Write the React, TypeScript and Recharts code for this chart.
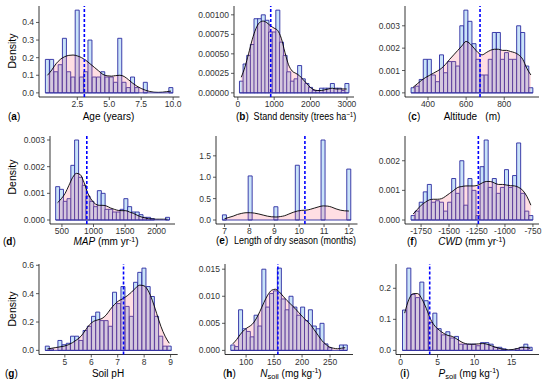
import React from 'react';
import { ComposedChart, Bar, Area, XAxis, YAxis, ReferenceLine } from 'recharts';

const FONT = '"Liberation Sans", Arial, Helvetica, sans-serif';
const BAR_FILL = '#c9e3f9';
const BAR_STROKE = '#2a2aa0';
const AREA_FILL = '#ff6b80';
const MEAN_COLOR = '#0000ff';

const N_BINS = 30;
const binCenters = (first: number, width: number) =>
  Array.from({ length: N_BINS }, (_, i) => first + i * width);

// (a) Age (years)
const ageCenters = binCenters(0.1667, 0.3333);
const ageBars = [0.19, 0.19, 0.12, 0.16, 0.31, 0.12, 0.09, 0.47, 0.09, 0.12, 0.30, 0.09, 0.09, 0.12, 0.09, 0.09, 0.06, 0.31, 0.06, 0.03, 0.09, 0.03, 0, 0.06, 0, 0, 0, 0, 0, 0.03];
const ageCurve = [0.10, 0.13, 0.165, 0.19, 0.205, 0.213, 0.215, 0.21, 0.2, 0.185, 0.165, 0.145, 0.125, 0.105, 0.097, 0.095, 0.098, 0.1, 0.093, 0.075, 0.055, 0.038, 0.025, 0.015, 0.008, 0.004, 0.003, 0.004, 0.007, 0.01];
const ageMean = 3.05;
const ageXTicks = [2.5, 5.0, 7.5, 10.0];
const ageYTicks = [0, 0.1, 0.2, 0.3, 0.4];

// (b) Stand density
const standCenters = binCenters(95, 100);
const standBars = [0.00015, 0.00037, 0.00048, 0.00062, 0.00095, 0.00095, 0.00100, 0.00093, 0.00078, 0.00078, 0.00106, 0.00065, 0.00048, 0.00027, 0.00015, 0.00018, 0.00035, 0.00018, 0.00012, 0.00007, 0.00003, 0.00003, 0.00006, 0.00006, 0.00006, 0.00012, 0.00006, 0.00006, 0.00003, 0.00012];
const standCurve = [0.0002, 0.00033, 0.0005, 0.00068, 0.00082, 0.0009, 0.00092, 0.0009, 0.00086, 0.00083, 0.0008, 0.0007, 0.00052, 0.00036, 0.00028, 0.00025, 0.00022, 0.00017, 0.00012, 0.00007, 0.00004, 0.00003, 0.00003, 0.00004, 0.00005, 0.00006, 0.00005, 0.00005, 0.00005, 0.00005];
const standMean = 905;
const standXTicks = [0, 1000, 2000, 3000];
const standYTicks = [0, 0.00025, 0.0005, 0.00075, 0.001];

// (c) Altitude
const altCenters = binCenters(322, 21.3);
const altBars = [0.00023, 0.0003, 0.0006, 0.0015, 0.0015, 0.0008, 0.0005, 0.0017, 0.0009, 0.0014, 0.0014, 0.0012, 0.0030, 0.0037, 0.0032, 0.0022, 0.0015, 0.0008, 0.0008, 0.0015, 0.0027, 0.0027, 0.0015, 0.0018, 0.0015, 0.0015, 0.0030, 0.0027, 0.0012, 0.00023];
const altCurve = [0.00025, 0.0004, 0.00055, 0.00068, 0.00078, 0.00088, 0.00098, 0.0011, 0.00128, 0.0015, 0.0017, 0.0019, 0.0021, 0.0023, 0.0022, 0.002, 0.0018, 0.0017, 0.0018, 0.0019, 0.00195, 0.00195, 0.0019, 0.0019, 0.00185, 0.0018, 0.0017, 0.0015, 0.0011, 0.0008];
const altMean = 673;
const altXTicks = [400, 600, 800];
const altYTicks = [0, 0.001, 0.002, 0.003];

// (d) MAP
const mapCenters = binCenters(431, 60);
const mapBars = [0.00125, 0.00115, 0.0007, 0.0008, 0.00205, 0.0030, 0.0016, 0.0013, 0.0009, 0.0007, 0.0005, 0.0011, 0.0010, 0.0004, 0.0004, 0.0003, 0.0003, 0.0004, 0.0008, 0.0005, 0.0003, 0.0003, 0.0002, 0.0001, 0.0001, 0.00005, 0, 0, 0, 0.0001];
const mapCurve = [0.00065, 0.0008, 0.001, 0.0013, 0.0016, 0.00175, 0.0017, 0.0014, 0.001, 0.00075, 0.0006, 0.00055, 0.00055, 0.00052, 0.00045, 0.0004, 0.00036, 0.00035, 0.00035, 0.0003, 0.00025, 0.00018, 0.00012, 0.00008, 0.00005, 0.00004, 0.00003, 0.00003, 0.00003, 0.00003];
const mapMean = 894;
const mapXTicks = [500, 1000, 1500, 2000];
const mapYTicks = [0, 0.001, 0.002, 0.003];

// (e) Length of dry season
const dryCenters = binCenters(7, 5 / 29);
const dryBars = [0.12, 0, 0, 0, 0, 0, 1.03, 0, 0, 0, 0, 0, 0.31, 0, 0, 0, 0, 1.28, 0, 0, 0, 0, 0, 1.87, 0, 0, 0, 0, 0, 1.19];
const dryCurve = [0.03, 0.06, 0.09, 0.13, 0.155, 0.17, 0.17, 0.16, 0.14, 0.115, 0.09, 0.075, 0.07, 0.08, 0.1, 0.14, 0.18, 0.21, 0.225, 0.23, 0.25, 0.28, 0.31, 0.33, 0.325, 0.3, 0.26, 0.23, 0.215, 0.21];
const dryMean = 10.23;
const dryXTicks = [7, 8, 9, 10, 11, 12];
const dryYTicks = [0, 0.5, 1.0, 1.5];

// (f) CWD
const cwdCenters = binCenters(-1821, 36.3);
const cwdBars = [0.00015, 0.0003, 0.0006, 0.00095, 0.0012, 0.0006, 0.00065, 0.0006, 0.0003, 0.0006, 0.0014, 0.0009, 0.0020, 0.0005, 0.0014, 0.0010, 0.00015, 0.0018, 0.0027, 0.0011, 0.0014, 0.0009, 0.0011, 0.0017, 0.0011, 0.0015, 0.0026, 0.0009, 0.0003, 0.00015];
const cwdCurve = [0.0002, 0.00035, 0.0005, 0.0006, 0.00068, 0.0007, 0.0007, 0.00072, 0.0008, 0.0009, 0.001, 0.0011, 0.00113, 0.00115, 0.00115, 0.00115, 0.00118, 0.00125, 0.0013, 0.0013, 0.00125, 0.0012, 0.0012, 0.00118, 0.00116, 0.00115, 0.0011, 0.001, 0.0008, 0.0005];
const cwdMean = -1238;
const cwdXTicks = [-1750, -1500, -1250, -1000, -750];
const cwdYTicks = [0, 0.001, 0.002];

// (g) Soil pH
const phCenters = binCenters(4.34, 0.159);
const phBars = [0.03, 0.01, 0, 0.07, 0.04, 0.05, 0.10, 0.10, 0.07, 0.14, 0.17, 0.24, 0.27, 0.21, 0.21, 0.17, 0.41, 0.33, 0.45, 0.31, 0.24, 0.48, 0.55, 0.58, 0.45, 0.38, 0.24, 0.10, 0.03, 0.03];
const phCurve = [0.01, 0.015, 0.02, 0.025, 0.03, 0.04, 0.055, 0.075, 0.1, 0.14, 0.18, 0.205, 0.215, 0.225, 0.25, 0.29, 0.325, 0.35, 0.365, 0.385, 0.41, 0.44, 0.46, 0.455, 0.42, 0.35, 0.26, 0.17, 0.1, 0.05];
const phMean = 7.22;
const phXTicks = [5, 6, 7, 8, 9];
const phYTicks = [0, 0.2, 0.4, 0.6];

// (h) N soil
const nCenters = binCenters(76.2, 6.93);
const nBars = [0.001, 0.0007, 0.0075, 0.004, 0.0035, 0.0025, 0.0065, 0.0045, 0.015, 0.008, 0.0105, 0.011, 0.0152, 0.0095, 0.0075, 0.010, 0.008, 0.0065, 0.008, 0.0055, 0.0075, 0.0045, 0.004, 0.005, 0.0012, 0.0005, 0, 0, 0.001, 0.001];
const nCurve = [0.0012, 0.002, 0.003, 0.0038, 0.0043, 0.0048, 0.0058, 0.0072, 0.0088, 0.0102, 0.0111, 0.0113, 0.0108, 0.01, 0.0092, 0.0085, 0.0078, 0.007, 0.0062, 0.0055, 0.0048, 0.0038, 0.0028, 0.0018, 0.0011, 0.0006, 0.0004, 0.0003, 0.0004, 0.0005];
const nMean = 156.8;
const nXTicks = [100, 150, 200, 250];
const nYTicks = [0, 0.005, 0.01, 0.015];

// (i) P soil
const pCenters = binCenters(0.56, 0.585);
const pBars = [0.13, 0.265, 0.18, 0.17, 0.22, 0.16, 0.09, 0.12, 0.07, 0.05, 0.06, 0.04, 0.045, 0.02, 0.02, 0.02, 0.02, 0.015, 0.025, 0.025, 0.02, 0.01, 0.01, 0.005, 0, 0, 0.005, 0.01, 0.02, 0.01];
const pCurve = [0.12, 0.165, 0.183, 0.183, 0.165, 0.135, 0.1, 0.078, 0.065, 0.055, 0.048, 0.045, 0.037, 0.028, 0.022, 0.02, 0.02, 0.021, 0.022, 0.02, 0.015, 0.01, 0.006, 0.003, 0.002, 0.003, 0.006, 0.01, 0.01, 0.006];
const pMean = 3.94;
const pXTicks = [0, 5, 10, 15];
const pYTicks = [0, 0.1, 0.2];

type Rect = { l: number; t: number; r: number; b: number };

const YW = 46;
const MT = 4;
const MR = 6;
const XH = 18;

type PanelProps = {
  centers: number[];
  bars: number[];
  curve: number[];
  mean: number;
  xTicks: number[];
  xDec: number;
  yTicks: number[];
  yDec: number;
  rect: Rect;
};

const tickStyle = { fontSize: 8.5, fill: '#333333', fontFamily: FONT };

function Panel({ centers, bars, curve, mean, xTicks, xDec, yTicks, yDec, rect }: PanelProps) {
  const w = centers[1] - centers[0];
  const lo = centers[0] - w / 2;
  const hi = centers[centers.length - 1] + w / 2;
  const pad = (hi - lo) * 0.05;
  const ymax = Math.max(...bars, ...curve);
  const data = centers.map((x, i) => ({ x, h: bars[i], d: curve[i] }));
  const width = rect.r - rect.l + YW + MR;
  const height = rect.b - rect.t + MT + XH;
  return (
    <div style={{ position: 'absolute', left: rect.l - YW, top: rect.t - MT }}>
      <ComposedChart
        width={width}
        height={height}
        data={data}
        margin={{ top: MT, right: MR, bottom: 0, left: 0 }}
        barCategoryGap={0}
        barGap={0}
      >
        <XAxis
          dataKey="x"
          type="number"
          domain={[lo - pad, hi + pad]}
          allowDataOverflow
          ticks={xTicks}
          interval={0}
          tickFormatter={(v: number) => v.toFixed(xDec)}
          height={XH}
          tickSize={3}
          tickMargin={1}
          axisLine={{ stroke: '#000', strokeWidth: 0.8 }}
          tickLine={{ stroke: '#333', strokeWidth: 0.8 }}
          tick={tickStyle}
        />
        <YAxis
          type="number"
          domain={[-0.05 * ymax, 1.05 * ymax]}
          allowDataOverflow
          ticks={yTicks}
          interval={0}
          tickFormatter={(v: number) => v.toFixed(yDec)}
          width={YW}
          tickSize={3}
          axisLine={{ stroke: '#000', strokeWidth: 0.8 }}
          tickLine={{ stroke: '#333', strokeWidth: 0.8 }}
          tick={tickStyle}
        />
        <Bar dataKey="h" fill={BAR_FILL} stroke={BAR_STROKE} strokeWidth={0.9} isAnimationActive={false} zIndex={300} />
        <Area
          dataKey="d"
          type="monotone"
          baseValue={0}
          fill={AREA_FILL}
          fillOpacity={0.22}
          stroke="#000"
          strokeWidth={0.9}
          dot={false}
          activeDot={false}
          isAnimationActive={false}
          zIndex={600}
        />
        <ReferenceLine
          segment={[{ x: lo, y: 0 }, { x: hi, y: 0 }]}
          stroke={BAR_STROKE}
          strokeWidth={0.9}
          zIndex={650}
        />
        <ReferenceLine x={mean} stroke={MEAN_COLOR} strokeWidth={1.6} strokeDasharray="3 2" zIndex={700} />
      </ComposedChart>
    </div>
  );
}

const textBase: React.CSSProperties = {
  position: 'absolute',
  fontFamily: FONT,
  fontSize: 10,
  color: '#000',
  whiteSpace: 'nowrap',
  lineHeight: 1,
};

const Sup = ({ children }: { children: React.ReactNode }) => (
  <span style={{ fontSize: '0.7em', position: 'relative', top: '-0.45em' }}>{children}</span>
);
const Sub = ({ children }: { children: React.ReactNode }) => (
  <span style={{ fontSize: '0.75em', position: 'relative', top: '0.3em' }}>{children}</span>
);

function Title({ x, y, sx = 1, children }: { x: number; y: number; sx?: number; children: React.ReactNode }) {
  return (
    <div style={{ ...textBase, left: x, top: y, transform: `translate(-50%, -50%) scaleX(${sx})` }}>{children}</div>
  );
}
function Tag({ x, y, letter }: { x: number; y: number; letter: string }) {
  return (
    <div style={{ ...textBase, left: x, top: y, transform: 'translateY(-50%)' }}>
      (<b>{letter}</b>)
    </div>
  );
}
function YTitle({ x, y }: { x: number; y: number }) {
  return (
    <div style={{ ...textBase, fontSize: 10.5, left: x, top: y, transform: 'translate(-50%, -50%) rotate(-90deg)' }}>
      Density
    </div>
  );
}

const ROW1 = { t: 6, b: 97 };
const ROW2 = { t: 135.5, b: 223.5 };
const ROW3 = { t: 264, b: 354.5 };

export default function App() {
  return (
    <div
      style={{
        position: 'absolute',
        left: 0,
        top: 0,
        width: 550,
        height: 384,
        background: '#fff',
        overflow: 'hidden',
      }}
    >
      <Panel centers={ageCenters} bars={ageBars} curve={ageCurve} mean={ageMean} xTicks={ageXTicks} xDec={1} yTicks={ageYTicks} yDec={1} rect={{ l: 38.5, r: 179, ...ROW1 }} />
      <Panel centers={standCenters} bars={standBars} curve={standCurve} mean={standMean} xTicks={standXTicks} xDec={0} yTicks={standYTicks} yDec={5} rect={{ l: 234, r: 354, ...ROW1 }} />
      <Panel centers={altCenters} bars={altBars} curve={altCurve} mean={altMean} xTicks={altXTicks} xDec={0} yTicks={altYTicks} yDec={3} rect={{ l: 405, r: 539, ...ROW1 }} />
      <Panel centers={mapCenters} bars={mapBars} curve={mapCurve} mean={mapMean} xTicks={mapXTicks} xDec={0} yTicks={mapYTicks} yDec={3} rect={{ l: 50, r: 175, ...ROW2 }} />
      <Panel centers={dryCenters} bars={dryBars} curve={dryCurve} mean={dryMean} xTicks={dryXTicks} xDec={0} yTicks={dryYTicks} yDec={1} rect={{ l: 215.5, r: 357, ...ROW2 }} />
      <Panel centers={cwdCenters} bars={cwdBars} curve={cwdCurve} mean={cwdMean} xTicks={cwdXTicks} xDec={0} yTicks={cwdYTicks} yDec={3} rect={{ l: 405, r: 539, ...ROW2 }} />
      <Panel centers={phCenters} bars={phBars} curve={phCurve} mean={phMean} xTicks={phXTicks} xDec={0} yTicks={phYTicks} yDec={1} rect={{ l: 39.3, r: 178, ...ROW3 }} />
      <Panel centers={nCenters} bars={nBars} curve={nCurve} mean={nMean} xTicks={nXTicks} xDec={0} yTicks={nYTicks} yDec={3} rect={{ l: 225, r: 353, ...ROW3 }} />
      <Panel centers={pCenters} bars={pBars} curve={pCurve} mean={pMean} xTicks={pXTicks} xDec={0} yTicks={pYTicks} yDec={1} rect={{ l: 396, r: 539, ...ROW3 }} />

      <YTitle x={12} y={51} />
      <YTitle x={12} y={177} />
      <YTitle x={12} y={309} />

      <Tag x={8} y={117} letter="a" />
      <Title x={108.5} y={117}>Age (years)</Title>
      <Tag x={236} y={117} letter="b" />
      <Title x={305} y={117} sx={0.9}>
        Stand density (trees ha<Sup>−1</Sup>)
      </Title>
      <Tag x={408} y={117} letter="c" />
      <Title x={472} y={117}>Altitude&nbsp;&nbsp;&nbsp;(m)</Title>

      <Tag x={3} y={242} letter="d" />
      <Title x={106} y={242}>
        <i>MAP</i> (mm yr<Sup>-1</Sup>)
      </Title>
      <Tag x={216} y={241} letter="e" />
      <Title x={294.5} y={241} sx={0.9}>
        Length of dry season (months)
      </Title>
      <Tag x={407} y={242} letter="f" />
      <Title x={472} y={242}>
        <i>CWD</i> (mm yr<Sup>-1</Sup>)
      </Title>

      <Tag x={5} y={373.5} letter="g" />
      <Title x={108} y={373.5}>Soil pH</Title>
      <Tag x={223} y={373.5} letter="h" />
      <Title x={291} y={373.5}>
        <i>N</i>
        <Sub>soil</Sub> (mg kg<Sup>-1</Sup>)
      </Title>
      <Tag x={400} y={373.5} letter="i" />
      <Title x={469} y={373.5}>
        <i>P</i>
        <Sub>soil</Sub> (mg kg<Sup>-1</Sup>)
      </Title>
    </div>
  );
}
